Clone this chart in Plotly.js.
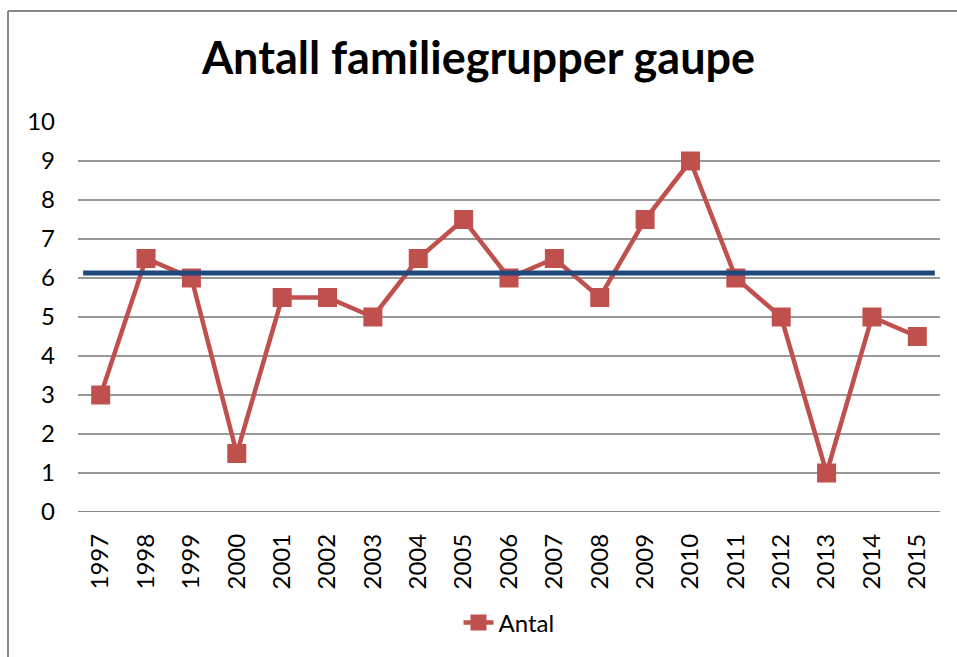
<!DOCTYPE html>
<html>
<head>
<meta charset="utf-8">
<script src="https://cdn.plot.ly/plotly-3.0.1.min.js"></script>
<style>html,body{margin:0;padding:0;background:#fff;}#chart{width:957px;height:657px;}</style>
</head>
<body>
<div id="chart"></div>
<script>
const years = ["1997","1998","1999","2000","2001","2002","2003","2004","2005","2006","2007","2008","2009","2010","2011","2012","2013","2014","2015"];
const antal = [3, 6.5, 6, 1.5, 5.5, 5.5, 5, 6.5, 7.5, 6, 6.5, 5.5, 7.5, 9, 6, 5, 1, 5, 4.5];
const referenceLevel = 6.13;
const yTicks = [0,1,2,3,4,5,6,7,8,9,10];

const fontFam = 'Lato, "Open Sans", "DejaVu Sans", sans-serif';

const trace = {
  x: years, y: antal, type: 'scatter', mode: 'lines+markers', name: 'Antal',
  line: {color: '#C0504D', width: 4.5},
  marker: {symbol: 'square', size: 19, color: '#C0504D'}
};

const layout = {
  width: 957, height: 657,
  margin: {l: 78, r: 17, t: 122, b: 145},
  paper_bgcolor: '#fff', plot_bgcolor: '#fff',
  font: {family: fontFam, color: '#000'},
  title: {text: '<b>Antall familiegrupper gaupe</b>', font: {size: 45, family: fontFam, color: '#000'},
          x: 0.5, xanchor: 'center', y: 1 - 58/657, yanchor: 'middle', yref: 'container'},
  xaxis: {type: 'category', range: [-0.5, 18.5], tickangle: -90, tickfont: {size: 24},
          showgrid: false, zeroline: false, showline: false, ticks: '', ticklen: 0, ticklabelstandoff: 16},
  yaxis: {range: [0, 10], tickvals: yTicks, ticktext: yTicks.map(String), tickfont: {size: 24},
          showgrid: true, gridcolor: '#999', gridwidth: 1.5, zeroline: false, showline: false, ticks: '',
          ticklabelstandoff: 22},
  showlegend: true,
  legend: {orientation: 'h', x: 0.5, xanchor: 'center', y: 34/657, yref: 'container', yanchor: 'middle',
           font: {size: 24}},
  shapes: [
    {type: 'line', xref: 'x', yref: 'y', x0: -0.5, x1: 18.5, y0: 0, y1: 0, line: {color: '#888', width: 2}},
    {type: 'line', xref: 'paper', yref: 'y', x0: 0.006, x1: 0.994, y0: referenceLevel, y1: referenceLevel,
     line: {color: '#1F497D', width: 5}, layer: 'above'},
    {type: 'line', xref: 'paper', yref: 'paper', x0: -70/862, x1: 879/862, y0: 1 + 111/390, y1: 1 + 111/390,
     line: {color: '#888', width: 2}},
    {type: 'line', xref: 'paper', yref: 'paper', x0: -70/862, x1: -70/862, y0: 1 + 111/390, y1: -145/390,
     line: {color: '#888', width: 2}}
  ]
};

Plotly.newPlot('chart', [trace], layout, {displayModeBar: false, staticPlot: true});
</script>
</body>
</html>
